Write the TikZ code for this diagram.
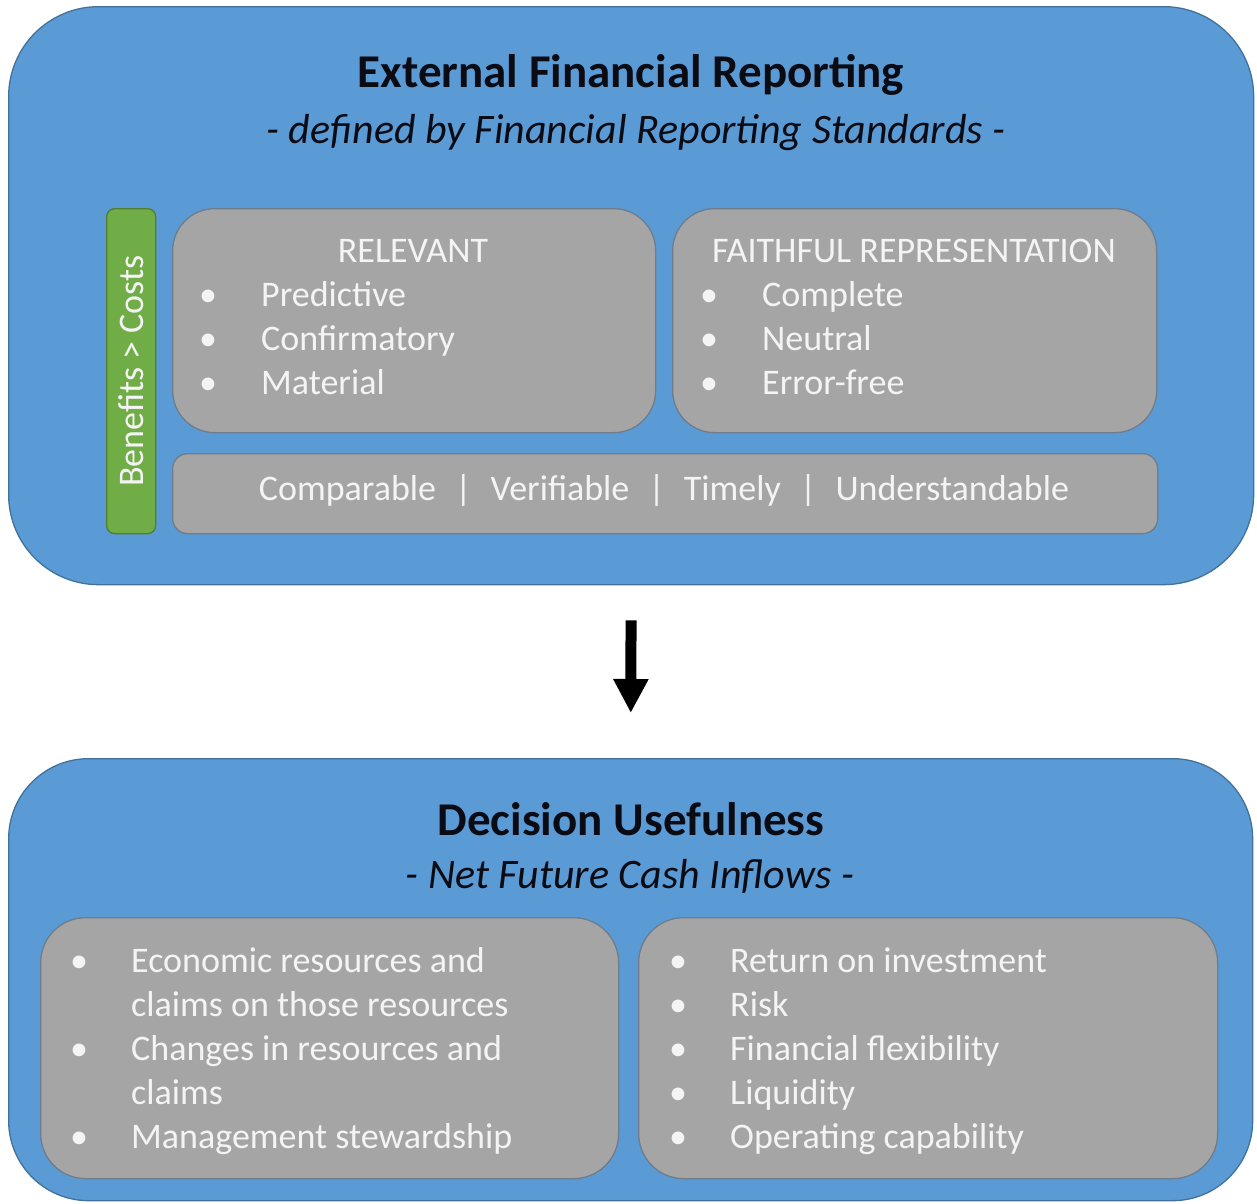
\documentclass[tikz,border=0pt]{standalone}
\usepackage{fontspec}
\setmainfont{Carlito}
\usetikzlibrary{arrows.meta}

\definecolor{panelblue}{HTML}{5B9BD5}
\definecolor{paneledge}{HTML}{41719C}
\definecolor{itemgray}{HTML}{A5A5A5}
\definecolor{itemedge}{HTML}{6E7C8B}
\definecolor{costgreen}{HTML}{70AD47}
\definecolor{costedge}{HTML}{507E32}
\definecolor{titleink}{HTML}{0B0B14}
\definecolor{itemink}{HTML}{F4F4F4}

\newcommand{\barsep}{\hspace{19pt}|\hspace{19pt}}

\begin{document}
\begin{tikzpicture}[x=1pt, y=-1pt,
    panel/.style={rectangle, draw=paneledge, fill=panelblue, line width=1.3pt,
                  anchor=north west, inner sep=0pt},
    itembox/.style={rectangle, draw=itemedge, fill=itemgray, line width=1.3pt,
                    anchor=north west, inner sep=0pt},
    heading/.style={anchor=base, inner sep=0pt, text=titleink,
                    font=\fontsize{47}{54}\selectfont\bfseries},
    subheading/.style={anchor=base, inner sep=0pt, text=titleink,
                       font=\fontsize{42}{48}\selectfont\itshape},
    label/.style={anchor=base, inner sep=0pt, text=itemink,
                  font=\fontsize{36}{44}\selectfont},
    entry/.style={label, anchor=base west}]

  \useasboundingbox (0,0) rectangle (1257,1203);

  % Outer panels.
  \node at (8,6) [panel, rounded corners=90pt, minimum width=1245pt,
                  minimum height=578pt, name=Reporting] {};
  \node at (8,758) [panel, rounded corners=80pt, minimum width=1244pt,
                    minimum height=442pt, name=Usefulness] {};

  % Panel titles.
  \node at (631,87) [heading, name=ReportingTitle] {External Financial Reporting};
  \node at (636,143) [subheading, name=ReportingSub]
        {- defined by Financial Reporting Standards -};
  \node at (631,835) [heading, name=UsefulnessTitle] {Decision Usefulness};
  \node at (630,888) [subheading, name=UsefulnessSub] {- Net Future Cash Inflows -};

  % Qualitative characteristics.
  \node at (106,208) [rectangle, draw=costedge, fill=costgreen, line width=1.3pt,
                      rounded corners=8pt, anchor=north west, inner sep=0pt,
                      minimum width=49pt, minimum height=325pt, name=Constraint] {};
  \node at (Constraint.center) [label, anchor=center, rotate=90,
                                name=ConstraintText] {Benefits > Costs};

  \node at (172,208) [itembox, rounded corners=42pt, minimum width=483pt,
                      minimum height=224pt, name=Relevant] {};
  \node at (672,208) [itembox, rounded corners=42pt, minimum width=484pt,
                      minimum height=224pt, name=Faithful] {};
  \node at (172,453) [itembox, rounded corners=15pt, minimum width=985pt,
                      minimum height=80pt, name=Enhancing] {};

  \node at (413,262) [label, name=RelevantTitle] {RELEVANT};
  \node at (914,262) [label, name=FaithfulTitle] {FAITHFUL REPRESENTATION};
  \foreach \txt [count=\i] in {Predictive, Confirmatory, Material} {
    \node at (199,262+44*\i) [entry, name=RelevantDot\i] {\textbullet};
    \node at (261,262+44*\i) [entry, name=RelevantItem\i] {\txt};
  }
  \foreach \txt [count=\i] in {Complete, Neutral, Error-free} {
    \node at (700,262+44*\i) [entry, name=FaithfulDot\i] {\textbullet};
    \node at (762,262+44*\i) [entry, name=FaithfulItem\i] {\txt};
  }
  \node at (664,500) [label, name=EnhancingText]
        {Comparable\barsep Verifiable\barsep Timely\barsep Understandable};

  % Decision inputs.
  \node at (40,917) [itembox, rounded corners=45pt, minimum width=578pt,
                     minimum height=261pt, name=Resources] {};
  \node at (638,917) [itembox, rounded corners=45pt, minimum width=579pt,
                      minimum height=261pt, name=Returns] {};

  \foreach \line in {0,2,4}
    \node at (70,972+44*\line) [entry, name=ResourcesDot\line] {\textbullet};
  \foreach \txt [count=\i] in {Economic resources and, claims on those resources,
                               Changes in resources and, claims,
                               Management stewardship}
    \node at (131,928+44*\i) [entry, name=ResourcesItem\i] {\txt};
  \foreach \txt [count=\i] in {Return on investment, Risk, Financial flexibility,
                               Liquidity, Operating capability} {
    \node at (669,928+44*\i) [entry, name=ReturnsDot\i] {\textbullet};
    \node at (730,928+44*\i) [entry, name=ReturnsItem\i] {\txt};
  }

  % Reporting feeds decisions.
  \draw [line width=11pt, -{Triangle[length=34pt, width=33pt]},
         shorten <=35pt, shorten >=45pt]
        (Reporting.south) -- (Usefulness.north);
\end{tikzpicture}
\end{document}
